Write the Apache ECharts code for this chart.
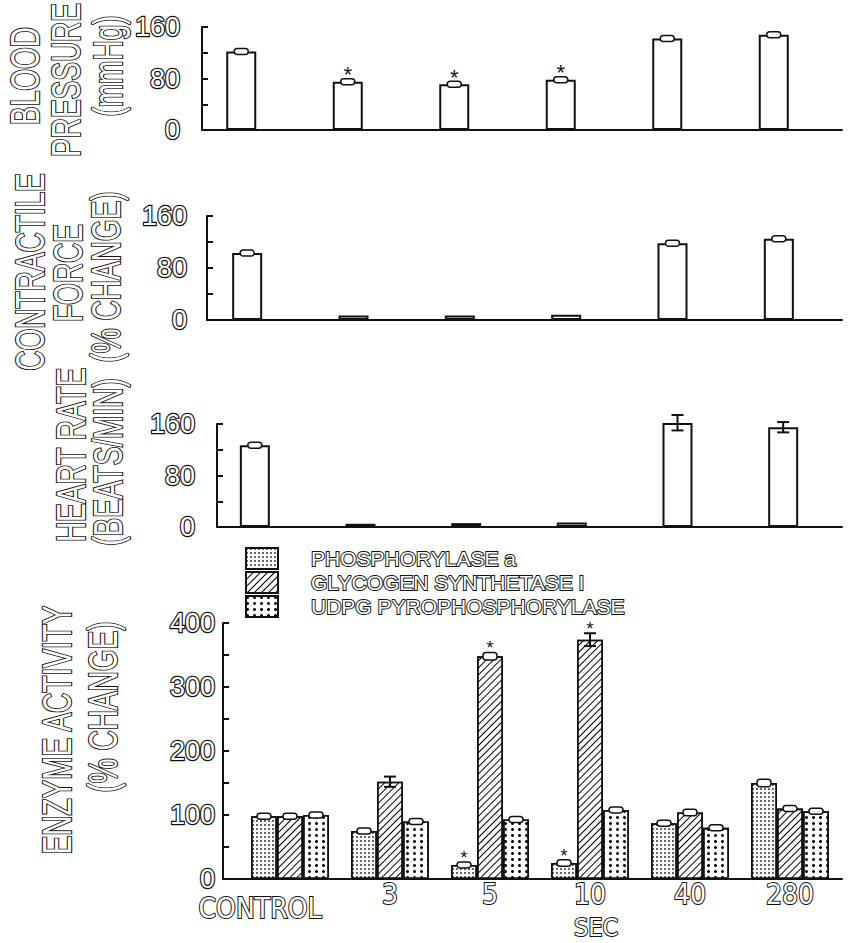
<!DOCTYPE html>
<html>
<head>
<meta charset="utf-8">
<script src="https://cdn.jsdelivr.net/npm/echarts@6/dist/echarts.min.js"></script>
<style>
html,body{margin:0;padding:0;background:#fff;}
#chart{width:848px;height:943px;}
</style>
</head>
<body>
<div id="chart"></div>
<script>
// ---------- data ----------
const categories = ['CONTROL', '3', '5', '10', '40', '280'];

const bpValues = [122, 75, 71, 78, 142, 148];
const bpErrors = [4, 3, 3, 3, 3, 3];
const bpStars  = [0, 1, 1, 1, 0, 0];

const cfValues = [103, 7, 7, 8, 118, 125];
const cfErrors = [3, 0, 0, 0, 3, 3];

const hrValues = [127, 5, 6, 7, 162, 155];
const hrErrors = [4, 0, 0, 0, 12, 8];

const phosValues = [98, 75, 22, 25, 87, 150];
const phosErrors = [4, 4, 4, 5, 4, 6];
const phosStars  = [0, 0, 1, 1, 0, 0];

const glycValues = [98, 152, 348, 374, 104, 110];
const glycErrors = [4, 8, 6, 10, 5, 4];
const glycStars  = [0, 0, 1, 1, 0, 0];

const udpgValues = [100, 90, 93, 108, 80, 106];
const udpgErrors = [4, 4, 4, 4, 4, 4];
const udpgStars  = [0, 0, 0, 0, 0, 0];

const smallAxisTickLabels = [0, 80, 160];
const enzymeAxisTickLabels = [0, 100, 200, 300, 400];

const seriesNames = ['PHOSPHORYLASE a', 'GLYCOGEN SYNTHETASE I', 'UDPG PYROPHOSPHORYLASE'];

// ---------- styles ----------
const INK = '#111';
const outline = { color: '#fff', textBorderColor: INK, textBorderWidth: 2.4 };
const CAT_FONT = '"DejaVu Sans Condensed", "Liberation Sans", sans-serif';

const decals = [
  { symbol: 'rect', symbolSize: 0.8, dashArrayX: [2, 2], dashArrayY: [2, 2], color: '#000' },
  { symbol: 'rect', symbolSize: 1, dashArrayX: [1, 0], dashArrayY: [1, 3.6], rotation: -Math.PI / 4, color: '#000' },
  { symbol: 'circle', symbolSize: 1, dashArrayX: [2.4, 3.4], dashArrayY: [2.4, 3], color: '#000' }
];

// panel layout: axis grid (for y axis + baseline) and bar grid (categories)
const panels = [
  { axisLeft: 202, top: 27, height: 103, barLeft: 188, barWidth: 639, max: 160, tick: 40, labelMargin: 22 },
  { axisLeft: 207, top: 216, height: 104, barLeft: 194, barWidth: 638, max: 160, tick: 40, labelMargin: 20 },
  { axisLeft: 217, top: 424, height: 103, barLeft: 202, barWidth: 634, max: 160, tick: 40, labelMargin: 22 },
  { axisLeft: 223, top: 623, height: 256, barLeft: 240, barWidth: 600, max: 400, tick: 50, labelMargin: 8 }
];

const grids = [], xAxes = [], yAxes = [], series = [];

panels.forEach(function (p, k) {
  grids.push({ left: p.axisLeft, top: p.top, width: 842 - p.axisLeft, height: p.height });
  grids.push({ left: p.barLeft, top: p.top, width: p.barWidth, height: p.height });
  const labelSet = k === 3 ? enzymeAxisTickLabels : smallAxisTickLabels;
  xAxes.push({
    gridIndex: 2 * k, type: 'value', min: 0, max: 1,
    axisLine: { show: true, lineStyle: { color: INK, width: 2 } },
    axisTick: { show: false }, axisLabel: { show: false }, splitLine: { show: false }
  });
  yAxes.push({
    gridIndex: 2 * k, type: 'value', min: 0, max: p.max, interval: p.tick,
    axisLine: { show: true, lineStyle: { color: INK, width: 2 } },
    axisTick: { show: true, inside: true, length: 6, lineStyle: { color: INK, width: 2 } },
    splitLine: { show: false },
    axisLabel: Object.assign({
      margin: p.labelMargin, fontFamily: 'Liberation Sans', fontSize: 27,
      formatter: function (v) { return labelSet.indexOf(v) >= 0 ? String(v) : ''; }
    }, outline)
  });
  xAxes.push({
    gridIndex: 2 * k + 1, type: 'category', data: k === 3 ? categories.map(function (c, i) {
      return i === 0 ? { value: c, textStyle: { padding: [14, 60, 0, 0] } } : c;
    }) : categories,
    axisLine: { show: false }, axisTick: { show: false },
    axisLabel: k === 3 ? Object.assign({
      show: true, margin: 1, fontFamily: CAT_FONT, fontSize: 28, interval: 0
    }, outline, { textBorderWidth: 2 }) : { show: false }
  });
  yAxes.push({ gridIndex: 2 * k + 1, type: 'value', min: 0, max: p.max, show: false });
});

function errorRender(offset, starSize) {
  return function (params, api) {
    const i = api.value(0), v = api.value(1), e = api.value(2), star = api.value(3);
    const children = [];
    const hi = api.coord([i, v + e]);
    const lo = api.coord([i, v - e]);
    const x = hi[0] + offset;
    let topY = hi[1];
    if (e > 0) {
      const h = lo[1] - hi[1];
      if (h < 9) {
        const bh = Math.max(6, h);
        const cy = (hi[1] + lo[1]) / 2;
        topY = cy - bh / 2;
        children.push({ type: 'rect', shape: { x: x - 7, y: cy - bh / 2, width: 14, height: bh, r: 3 },
          style: { fill: '#fff', stroke: INK, lineWidth: 1.5 } });
      } else {
        children.push({ type: 'line', shape: { x1: x, y1: hi[1], x2: x, y2: lo[1] }, style: { stroke: INK, lineWidth: 2 } });
        children.push({ type: 'line', shape: { x1: x - 6, y1: hi[1], x2: x + 6, y2: hi[1] }, style: { stroke: INK, lineWidth: 2 } });
        children.push({ type: 'line', shape: { x1: x - 6, y1: lo[1], x2: x + 6, y2: lo[1] }, style: { stroke: INK, lineWidth: 2 } });
      }
    }
    if (star) {
      children.push({ type: 'text', x: x, y: topY - 4, style: {
        text: '*', font: starSize + 'px "Liberation Sans"', fill: INK, textAlign: 'center', textVerticalAlign: 'middle' } });
    }
    return { type: 'group', children: children };
  };
}

function errData(vals, errs, stars) {
  return vals.map(function (v, i) { return [i, v, errs[i], stars ? stars[i] : 0]; });
}

const plainBar = { color: '#fff', borderColor: INK, borderWidth: 2 };

[[bpValues, bpErrors, bpStars, 'Blood pressure'],
 [cfValues, cfErrors, null, 'Contractile force'],
 [hrValues, hrErrors, null, 'Heart rate']].forEach(function (d, k) {
  series.push({
    name: d[3], type: 'bar', xAxisIndex: 2 * k + 1, yAxisIndex: 2 * k + 1,
    data: d[0], barWidth: 30, itemStyle: plainBar, silent: true
  });
  series.push({
    type: 'custom', name: d[3] + ' SEM', xAxisIndex: 2 * k + 1, yAxisIndex: 2 * k + 1,
    renderItem: errorRender(0, 22), data: errData(d[0], d[1], d[2]), z: 5, silent: true
  });
});

const enzymeSets = [[phosValues, phosErrors, phosStars], [glycValues, glycErrors, glycStars], [udpgValues, udpgErrors, udpgStars]];
enzymeSets.forEach(function (d, j) {
  series.push({
    name: seriesNames[j], type: 'bar', xAxisIndex: 7, yAxisIndex: 7,
    data: d[0], barWidth: 26, barGap: '0%',
    itemStyle: { color: '#fff', borderColor: INK, borderWidth: 1.6, decal: decals[j] }, silent: true
  });
});
enzymeSets.forEach(function (d, j) {
  series.push({
    type: 'custom', name: seriesNames[j] + ' SEM', xAxisIndex: 7, yAxisIndex: 7,
    renderItem: errorRender((j - 1) * 26, 18), data: errData(d[0], d[1], d[2]), z: 5, silent: true
  });
});

function vtext(x, y, text) {
  return { type: 'text', x: x, y: y, rotation: Math.PI / 2, scaleX: 0.7, scaleY: 1, style: {
    text: text, font: '40px "Liberation Sans"', fill: '#fff', stroke: INK, lineWidth: 2.2,
    textAlign: 'center', textVerticalAlign: 'middle' } };
}

const graphics = [
  vtext(25, 76, 'BLOOD'), vtext(66, 80, 'PRESSURE'), vtext(108, 66, '(mmHg)'),
  vtext(30, 272, 'CONTRACTILE'), vtext(68, 273, 'FORCE'), vtext(106, 277, '(% CHANGE)'),
  vtext(71, 455, 'HEART RATE'), vtext(108, 462, '(BEATS/MIN)'),
  vtext(57, 730, 'ENZYME ACTIVITY'), vtext(103, 707, '(% CHANGE)'),
  { type: 'text', x: 596, y: 927, style: { text: 'SEC', font: '25px ' + CAT_FONT, fill: '#fff',
    stroke: INK, lineWidth: 2, textAlign: 'center', textVerticalAlign: 'middle' } }
];

const chart = echarts.init(document.getElementById('chart'), null, { renderer: 'svg' });
chart.setOption({
  backgroundColor: '#fff',
  animation: false,
  grid: grids,
  xAxis: xAxes,
  yAxis: yAxes,
  legend: {
    data: seriesNames, orient: 'vertical', left: 240, top: 542,
    itemWidth: 32, itemHeight: 21, itemGap: 1, icon: 'rect', selectedMode: false,
    textStyle: Object.assign({ fontFamily: 'Liberation Sans', fontSize: 21, padding: [0, 0, 0, 28] }, outline, { textBorderWidth: 2 })
  },
  series: series,
  graphic: graphics
});
</script>
</body>
</html>
